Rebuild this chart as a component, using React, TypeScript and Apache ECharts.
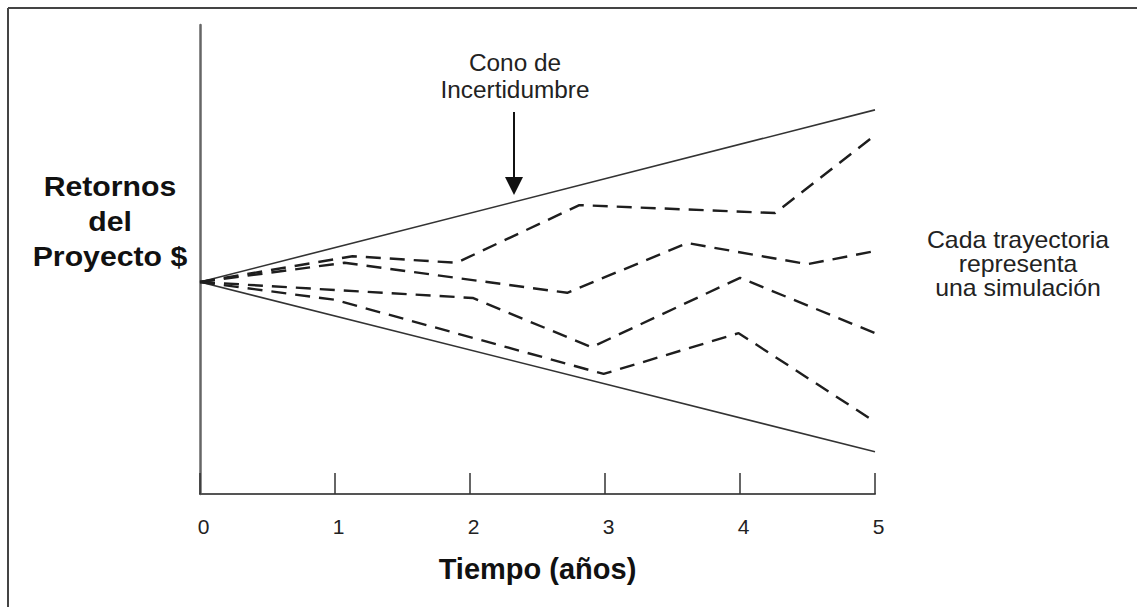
import React, { useEffect, useRef } from "react";
import * as echarts from "echarts";

const yearLabels = ["0", "1", "2", "3", "4", "5"];
const upperCone = [[0, 45.2], [5, 81.9]];
const lowerCone = [[0, 45.2], [5, 9.0]];
const simA = [[0, 45.2], [1.13, 50.7], [1.9, 49.3], [2.81, 61.6], [4.26, 59.9], [5, 76.5]];
const simB = [[0, 45.2], [1.07, 49.3], [2.72, 42.9], [3.61, 53.5], [4.5, 49.0], [5, 51.8]];
const simC = [[0, 45.2], [1, 43.5], [2.02, 41.8], [2.9, 31.3], [4.0, 46.1], [5, 34.3]];
const simD = [[0, 45.2], [1, 41.4], [2.99, 25.6], [3.99, 34.3], [5, 15.4]];
const simulations = [simA, simB, simC, simD];

const yTitleLines = ["Retornos", "del", "Proyecto $"];
const coneLabel = "Cono de\nIncertidumbre";
const noteLabel = "Cada trayectoria\nrepresenta\nuna simulación";
const xTitle = "Tiempo (años)";

const FONT = "Liberation Sans, Arial, Helvetica, sans-serif";

export default function App() {
  const ref = useRef<HTMLDivElement>(null);
  useEffect(() => {
    if (!ref.current) return;
    const chart = echarts.init(ref.current, undefined, { renderer: "svg" });
    const solid = (data: number[][]) => ({
      type: "line",
      data,
      symbol: "none",
      silent: true,
      lineStyle: { color: "#333", width: 1.6, type: "solid" },
    });
    const dashed = (data: number[][]) => ({
      type: "line",
      data,
      symbol: "none",
      silent: true,
      lineStyle: { color: "#1e1e1e", width: 2.4, type: [15, 9] },
    });
    chart.setOption({
      animation: false,
      backgroundColor: "#ffffff",
      textStyle: { fontFamily: FONT },
      grid: { left: 200, right: 262, top: 25, bottom: 113 },
      xAxis: {
        type: "value",
        min: 0,
        max: 5,
        interval: 1,
        name: xTitle,
        nameLocation: "middle",
        nameGap: 60,
        nameTextStyle: { fontFamily: FONT, fontSize: 29, fontWeight: "bold", color: "#111" },
        axisLine: { show: true, lineStyle: { color: "#555", width: 2 } },
        axisTick: { show: true, inside: true, length: 21, lineStyle: { color: "#333", width: 1.5 } },
        axisLabel: {
          show: true,
          fontFamily: FONT,
          fontSize: 21,
          color: "#222",
          margin: 22,
          formatter: (v: number) => `{t|${yearLabels[Math.round(v)] ?? ""}}`,
          rich: {
            t: { fontFamily: FONT, fontSize: 21, color: "#222", padding: [0, 0, 0, 7] },
          },
        },
        splitLine: { show: false },
      },
      yAxis: {
        type: "value",
        min: 0,
        max: 100,
        axisLine: { show: true, lineStyle: { color: "#666", width: 2.5 } },
        axisTick: { show: false },
        axisLabel: { show: false },
        splitLine: { show: false },
      },
      series: [solid(upperCone), solid(lowerCone), ...simulations.map(dashed)],
      graphic: [
        { type: "line", shape: { x1: 8, y1: 8, x2: 1137, y2: 8 }, style: { stroke: "#444", lineWidth: 2 } },
        { type: "line", shape: { x1: 8, y1: 8, x2: 8, y2: 607 }, style: { stroke: "#444", lineWidth: 2 } },
        ...yTitleLines.map((t, i) => ({
          type: "text",
          x: 110,
          y: 200 + i * 35,
          scaleX: 1.12,
          style: {
            text: t,
            font: `bold 27px ${FONT}`,
            fill: "#111",
            textAlign: "center",
            textVerticalAlign: "bottom",
          },
        })),
        {
          type: "text",
          x: 515,
          y: 50,
          scaleX: 1.06,
          style: {
            text: coneLabel,
            font: `23px ${FONT}`,
            lineHeight: 27,
            fill: "#222",
            textAlign: "center",
            textVerticalAlign: "top",
          },
        },
        { type: "line", shape: { x1: 514, y1: 112, x2: 514, y2: 180 }, style: { stroke: "#111", lineWidth: 2 } },
        {
          type: "polygon",
          shape: { points: [[505, 177], [523, 177], [514, 195]] },
          style: { fill: "#111" },
        },
        {
          type: "text",
          x: 1018,
          y: 228,
          scaleX: 1.08,
          style: {
            text: noteLabel,
            font: `23px ${FONT}`,
            lineHeight: 24,
            fill: "#222",
            textAlign: "center",
            textVerticalAlign: "top",
          },
        },
      ],
    });
    return () => chart.dispose();
  }, []);
  return (
    <div
      ref={ref}
      style={{ position: "absolute", left: 0, top: 0, width: 1137, height: 607, background: "#fff" }}
    />
  );
}
